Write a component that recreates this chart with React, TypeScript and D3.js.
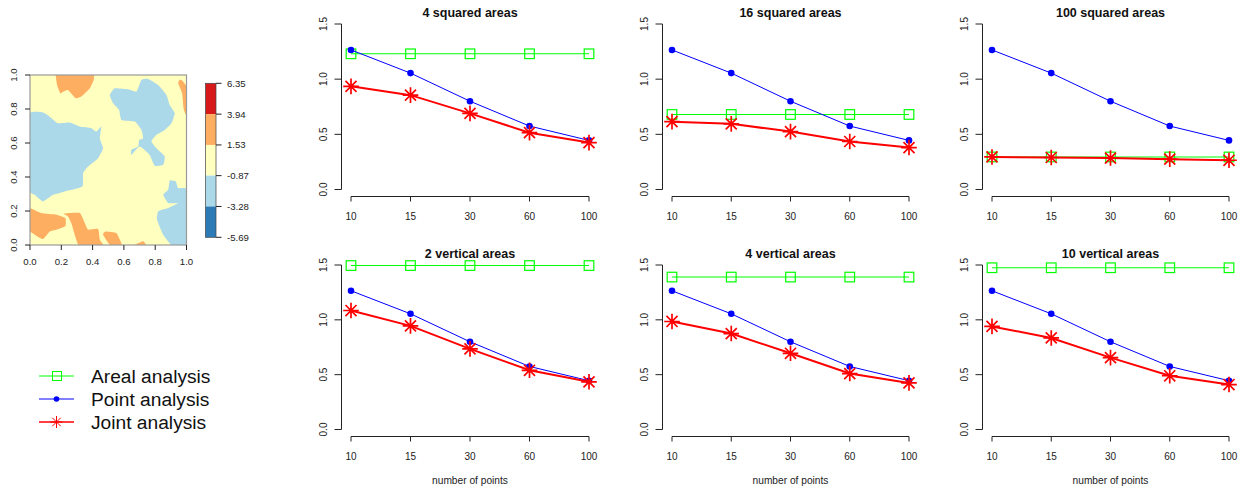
import React from "react";
import * as d3 from "d3";

const pointsLabels = ["10", "15", "30", "60", "100"];
const yTicks = [0, 0.5, 1, 1.5];
const pointAnalysis = [1.265, 1.055, 0.8, 0.575, 0.445];
const titles = ["4 squared areas", "16 squared areas", "100 squared areas", "2 vertical areas", "4 vertical areas", "10 vertical areas"];
const arealValues = [1.23, 0.68, 0.295, 1.495, 1.39, 1.475];
const jointValues = [
  [0.935, 0.855, 0.69, 0.515, 0.425],
  [0.615, 0.595, 0.525, 0.435, 0.38],
  [0.295, 0.29, 0.285, 0.275, 0.265],
  [1.085, 0.945, 0.735, 0.54, 0.435],
  [0.985, 0.875, 0.695, 0.51, 0.425],
  [0.94, 0.835, 0.655, 0.49, 0.41],
];
const legendLabels = ["Areal analysis", "Point analysis", "Joint analysis"];
const mapTicks = [0, 0.2, 0.4, 0.6, 0.8, 1];
const breaks = [6.35, 3.94, 1.53, -0.87, -3.28, -5.69];
const breakColors = ["#D7191C", "#FDAE61", "#FFFFBF", "#ABD9E9", "#2C7BB6"];

type Pt = [number, number];
const orangeAreas: Pt[][] = [
  [[0.164,1.02],[0.164,1],[0.173,0.941],[0.194,0.892],[0.211,0.902],[0.243,0.912],[0.292,0.863],[0.328,0.873],[0.382,0.922],[0.407,0.971],[0.409,1],[0.409,1.02]],
  [[0.947,0.951],[0.955,0.971],[0.968,0.971],[0.996,0.941],[1.01,0.9],[1.01,0.746],[0.983,0.795],[0.972,0.892]],
  [[-0.01,0.217],[0.072,0.188],[0.168,0.178],[0.226,0.159],[0.226,0.11],[0.168,0.09],[0.126,0.08],[0.083,0.035],[0.03,0.061],[-0.01,0.09]],
  [[0.215,0.184],[0.318,0.188],[0.35,0.129],[0.371,0.09],[0.435,0.094],[0.446,0.031],[0.471,-0.01],[0.318,-0.01],[0.286,0.061],[0.264,0.129],[0.243,0.168]],
  [[0.467,0.061],[0.484,0.08],[0.552,0.07],[0.591,-0.01],[0.52,-0.01]],
  [[0.648,-0.01],[0.723,0.022],[0.744,-0.01]],
];
const blueAreas: Pt[][] = [
  [[-0.01,0.765],[0.083,0.779],[0.126,0.755],[0.179,0.716],[0.254,0.72],[0.318,0.697],[0.392,0.687],[0.424,0.667],[0.456,0.697],[0.446,0.628],[0.467,0.569],[0.435,0.511],[0.371,0.462],[0.339,0.423],[0.335,0.344],[0.222,0.315],[0.147,0.295],[0.083,0.256],[0.03,0.295],[-0.01,0.335]],
  [[0.51,0.883],[0.542,0.922],[0.627,0.916],[0.68,0.902],[0.712,0.971],[0.755,0.977],[0.819,0.941],[0.872,0.883],[0.893,0.824],[0.925,0.775],[0.904,0.716],[0.861,0.677],[0.808,0.648],[0.776,0.609],[0.808,0.569],[0.861,0.521],[0.851,0.472],[0.797,0.466],[0.765,0.53],[0.712,0.575],[0.691,0.575],[0.648,0.53],[0.648,0.56],[0.691,0.579],[0.697,0.618],[0.723,0.628],[0.712,0.677],[0.67,0.726],[0.584,0.736],[0.569,0.795],[0.531,0.834]],
  [[0.893,0.38],[0.932,0.374],[0.947,0.335],[1.01,0.321],[1.01,-0.01],[0.915,-0.01],[0.851,0.061],[0.812,0.149],[0.819,0.198],[0.883,0.217],[0.947,0.247],[0.883,0.247],[0.851,0.295],[0.883,0.325]],
];

const FONT = "'Liberation Sans', Arial, sans-serif";
const INK = "#222";
const panelXs = [[351, 589], [672, 909], [992, 1229]];
const panelYs = [[189.5, 24], [429.5, 265]];

function star(cx: number, cy: number, r: number) {
  return d3.range(4).map((i) => {
    const a = (i * Math.PI) / 4;
    return `M${cx - r * Math.cos(a)},${cy - r * Math.sin(a)}L${cx + r * Math.cos(a)},${cy + r * Math.sin(a)}`;
  }).join("");
}

function Panel({ index }: { index: number }) {
  const col = index % 3;
  const row = Math.floor(index / 3);
  const x = d3.scalePoint<string>().domain(pointsLabels).range(panelXs[col]);
  const y = d3.scaleLinear().domain([0, 1.5]).range(panelYs[row]);
  const line = d3.line<number>().x((_, i) => x(pointsLabels[i]) as number).y((d) => y(d));
  const areal = pointsLabels.map(() => arealValues[index]);
  const joint = jointValues[index];
  const axisX = panelXs[col][0] - 9.5;
  const axisY = y(0) + 7;
  const mid = (panelXs[col][0] + panelXs[col][1]) / 2;
  return (
    <g fontFamily={FONT}>
      <text x={mid} y={y(1.5) - 7.5} textAnchor="middle" fontWeight="bold" fontSize={12.5} fill="#111">{titles[index]}</text>
      <path d={`M${axisX},${y(0)}V${y(1.5)}`} stroke={INK} fill="none" />
      {yTicks.map((t) => (
        <g key={t}>
          <path d={`M${axisX},${y(t)}h-7`} stroke={INK} />
          <text transform={`translate(${axisX - 15},${y(t)}) rotate(-90)`} textAnchor="middle" fontSize={10} fill={INK}>{t.toFixed(1)}</text>
        </g>
      ))}
      <path d={`M${panelXs[col][0]},${axisY}H${panelXs[col][1]}`} stroke={INK} fill="none" />
      {pointsLabels.map((l) => (
        <g key={l}>
          <path d={`M${x(l)},${axisY}v5`} stroke={INK} />
          <text x={x(l)} y={axisY + 23} textAnchor="middle" fontSize={10} fill={INK}>{l}</text>
        </g>
      ))}
      {row === 1 && <text x={mid} y={484} textAnchor="middle" fontSize={10.2} fill={INK}>number of points</text>}
      <path d={line(areal) as string} stroke="#00FF00" strokeWidth={1.1} fill="none" />
      {areal.map((v, i) => (
        <rect key={i} x={(x(pointsLabels[i]) as number) - 4.8} y={y(v) - 4.8} width={9.6} height={9.6} stroke="#00FF00" strokeWidth={1.2} fill="none" />
      ))}
      <path d={line(pointAnalysis) as string} stroke="#0000FF" strokeWidth={1} fill="none" />
      {pointAnalysis.map((v, i) => (
        <circle key={i} cx={x(pointsLabels[i])} cy={y(v)} r={3.3} fill="#0000FF" />
      ))}
      <path d={line(joint) as string} stroke="#FF0000" strokeWidth={2} fill="none" />
      {joint.map((v, i) => (
        <path key={i} d={star(x(pointsLabels[i]) as number, y(v), 7.8)} stroke="#FF0000" strokeWidth={1.7} fill="none" />
      ))}
    </g>
  );
}

function MapPanel() {
  const x = d3.scaleLinear().domain([0, 1]).range([30, 186.5]);
  const y = d3.scaleLinear().domain([0, 1]).range([245, 75]);
  const shape = d3.line<Pt>().x((d) => x(d[0])).y((d) => y(d[1])).curve(d3.curveCardinalClosed.tension(0.6));
  const c = d3.scaleLinear().domain([-5.69, 6.35]).range([237.3, 83.3]);
  return (
    <g fontFamily={FONT}>
      <defs>
        <clipPath id="map-clip"><rect x={x(0)} y={y(1)} width={x(1) - x(0)} height={y(0) - y(1)} /></clipPath>
      </defs>
      <rect x={x(0)} y={y(1)} width={x(1) - x(0)} height={y(0) - y(1)} fill={breakColors[2]} />
      <g clipPath="url(#map-clip)">
        {orangeAreas.map((a, i) => <path key={i} d={shape(a) as string} fill={breakColors[1]} />)}
        {blueAreas.map((a, i) => <path key={i} d={shape(a) as string} fill={breakColors[3]} />)}
      </g>
      <rect x={x(0)} y={y(1)} width={x(1) - x(0)} height={y(0) - y(1)} fill="none" stroke="#999" strokeWidth={1.2} />
      {mapTicks.map((t) => (
        <g key={t}>
          <path d={`M${x(t)},${y(0)}v5`} stroke={INK} />
          <text x={x(t)} y={265} textAnchor="middle" fontSize={9.6} fill={INK}>{t.toFixed(1)}</text>
          <path d={`M${x(0)},${y(t)}h-5`} stroke={INK} />
          <text transform={`translate(${16.5},${y(t)}) rotate(-90)`} textAnchor="middle" fontSize={9.6} fill={INK}>{t.toFixed(1)}</text>
        </g>
      ))}
      {breakColors.map((col, i) => (
        <rect key={col} x={205.5} y={c(breaks[i])} width={10.5} height={c(breaks[i + 1]) - c(breaks[i])} fill={col} />
      ))}
      <rect x={205.5} y={c(6.35)} width={10.5} height={c(-5.69) - c(6.35)} fill="none" stroke="#444" strokeWidth={0.7} />
      {breaks.map((b) => (
        <g key={b}>
          <path d={`M216,${c(b)}h5.5`} stroke={INK} />
          <text x={227} y={c(b) + 3.4} fontSize={9.6} fill={INK}>{b.toFixed(2)}</text>
        </g>
      ))}
    </g>
  );
}

function Legend() {
  const rows = d3.scalePoint<string>().domain(legendLabels).range([376, 422]);
  const colors = ["#00FF00", "#0000FF", "#FF0000"];
  const widths = [1, 1, 1.4];
  return (
    <g fontFamily={FONT}>
      {legendLabels.map((l, i) => {
        const ly = rows(l) as number;
        return (
          <g key={l}>
            <path d={`M39,${ly}H74`} stroke={colors[i]} strokeWidth={widths[i]} />
            {i === 0 && <rect x={52.5} y={ly - 4.5} width={9} height={9} fill="none" stroke={colors[i]} />}
            {i === 1 && <circle cx={56.5} cy={ly} r={2.8} fill={colors[i]} />}
            {i === 2 && <path d={star(56.5, ly, 6)} stroke={colors[i]} strokeWidth={1} fill="none" />}
            <text x={91} y={ly + 6.5} fontSize={19.2} fill="#111">{l}</text>
          </g>
        );
      })}
    </g>
  );
}

export default function App() {
  return (
    <svg width={1250} height={490} style={{ position: "absolute", left: 0, top: 0, display: "block", background: "#fff" }}>
      <MapPanel />
      <Legend />
      {titles.map((_, i) => <Panel key={i} index={i} />)}
    </svg>
  );
}
